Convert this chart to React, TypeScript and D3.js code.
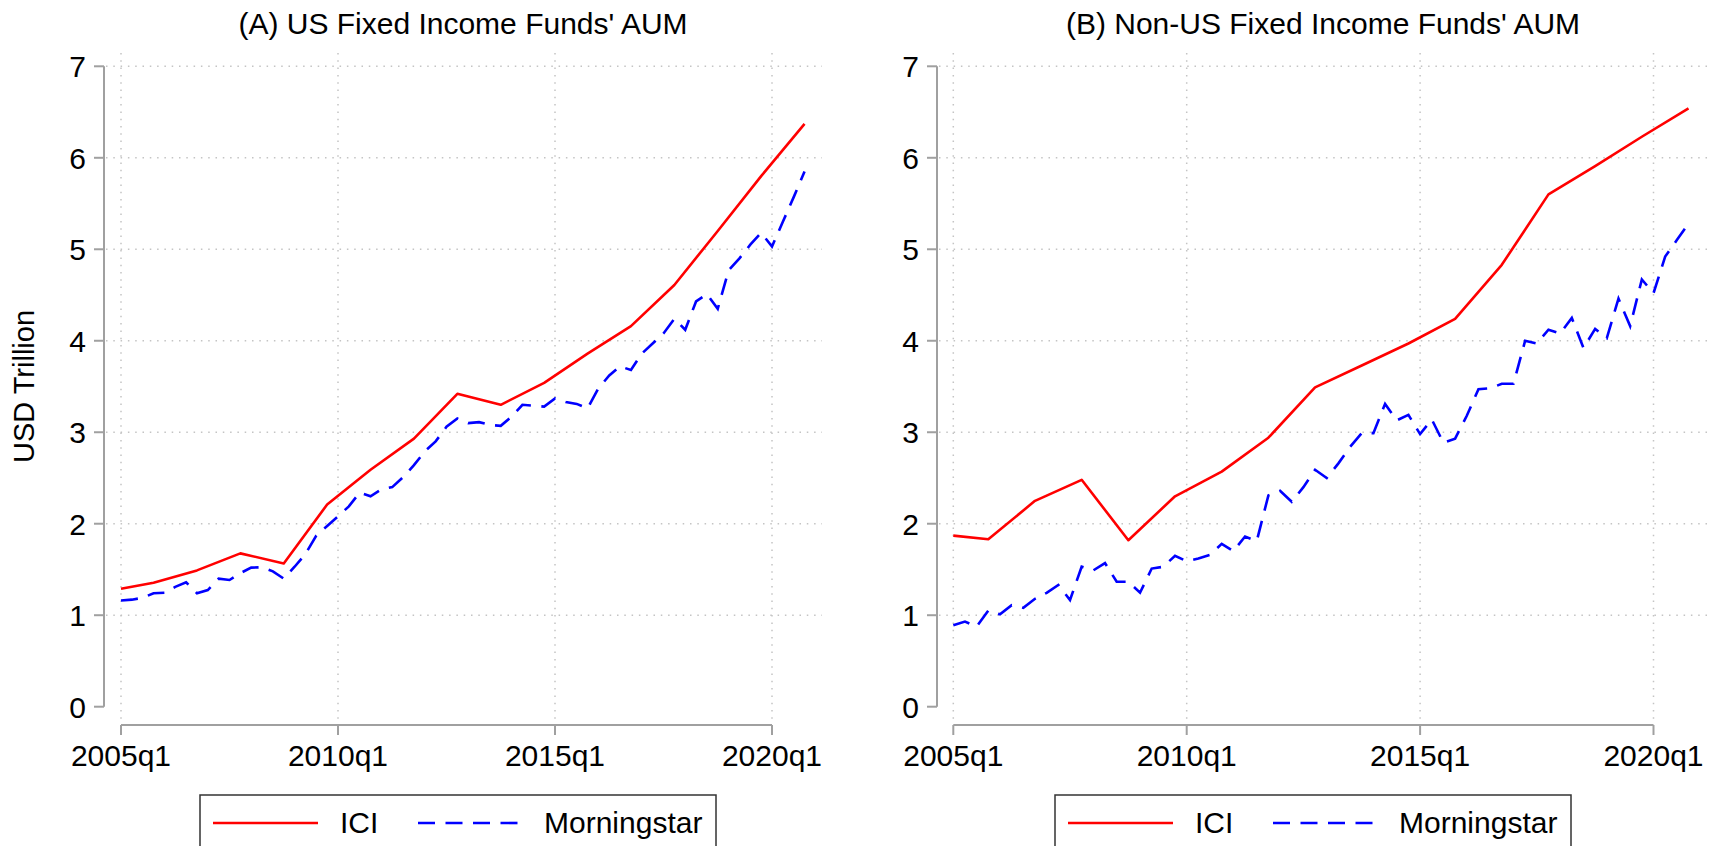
import React from "react";
import * as d3 from "d3";

// quarter index: 0 = 2005q1 ... 63 = 2020q4
const xTickQuarters = [0, 20, 40, 60];
const xTickLabels = ["2005q1", "2010q1", "2015q1", "2020q1"];
const yTickValues = [0, 1, 2, 3, 4, 5, 6, 7];

// ICI: annual observations
const iciQuarters = [0, 3, 7, 11, 15, 19, 23, 27, 31, 35, 39, 43, 47, 51, 55, 59, 63];
const iciUS = [1.29, 1.355, 1.49, 1.676, 1.566, 2.21, 2.59, 2.93, 3.42, 3.3, 3.54, 3.86, 4.16, 4.61, 5.2, 5.8, 6.37];
const iciNonUS = [1.87, 1.83, 2.25, 2.48, 1.82, 2.3, 2.57, 2.94, 3.49, 3.73, 3.97, 4.24, 4.83, 5.6, 5.91, 6.23, 6.54];

// Morningstar: quarterly, 2005q1 - 2020q4
const msUS = [
  1.16, 1.17, 1.19, 1.24, 1.245, 1.31, 1.36, 1.24, 1.275, 1.4, 1.385, 1.46, 1.52, 1.525, 1.48, 1.4,
  1.53, 1.67, 1.87, 1.975, 2.08, 2.19, 2.34, 2.3, 2.375, 2.4, 2.51, 2.64, 2.79, 2.9, 3.06, 3.15,
  3.1, 3.11, 3.08, 3.07, 3.17, 3.3, 3.29, 3.28, 3.37, 3.33, 3.31, 3.26, 3.48, 3.62, 3.72, 3.68,
  3.86, 3.97, 4.08, 4.24, 4.12, 4.43, 4.51, 4.35, 4.77, 4.9, 5.05, 5.18, 5.03, 5.3, 5.57, 5.85,
];
const msNonUS = [
  0.89, 0.93, 0.875, 1.05, 1.01, 1.11, 1.08, 1.18, 1.245, 1.33, 1.166, 1.53, 1.49, 1.57, 1.366, 1.366,
  1.246, 1.51, 1.53, 1.65, 1.59, 1.62, 1.66, 1.78, 1.7, 1.86, 1.81, 2.31, 2.36, 2.24, 2.4, 2.59,
  2.5, 2.66, 2.84, 2.99, 2.99, 3.31, 3.13, 3.19, 2.98, 3.14, 2.885, 2.93, 3.18, 3.47, 3.48, 3.53,
  3.53, 4.0, 3.97, 4.12, 4.08, 4.25, 3.92, 4.13, 4.03, 4.46, 4.16, 4.67, 4.52, 4.92, 5.1, 5.28,
];

const FONT = "'Liberation Sans', Arial, Helvetica, sans-serif";
const FS = 30;
const AXIS = "#a0a0a0";
const GRID = "#c4c4c4";
const DASH = "17 10.5";

type PanelProps = {
  title: string;
  ici: number[];
  ms: number[];
  axisX: number; // y-axis line position
  x0: number; // 2005q1
  x60: number; // 2020q1
  gridRight: number;
  legendLeft: number;
  yLabel?: string;
};

function Panel(p: PanelProps) {
  const xScale = d3.scaleLinear().domain([0, 60]).range([p.x0, p.x60]);
  const yScale = d3.scaleLinear().domain([0, 7]).range([706.7, 66.3]);
  const line = d3
    .line<[number, number]>()
    .x((d) => xScale(d[0]))
    .y((d) => yScale(d[1]));
  const iciPts: [number, number][] = p.ici.map((v, i) => [iciQuarters[i], v]);
  const msPts: [number, number][] = p.ms.map((v, i) => [i, v]);
  const xAxisY = 725;
  const centre = (p.axisX + p.gridRight) / 2;
  const lx = p.legendLeft;
  const ly = 823;

  return (
    <g fontFamily={FONT}>
      <text x={centre} y={34} fontSize={FS} textAnchor="middle" fill="#000">
        {p.title}
      </text>

      {/* grid */}
      {yTickValues
        .filter((v) => v > 0)
        .map((v) => (
          <line
            key={"gy" + v}
            x1={p.axisX + 2}
            x2={p.gridRight}
            y1={yScale(v)}
            y2={yScale(v)}
            stroke={GRID}
            strokeWidth={1.5}
            strokeDasharray="1.5 5.8"
          />
        ))}
      {xTickQuarters.map((q) => (
        <line
          key={"gx" + q}
          x1={xScale(q)}
          x2={xScale(q)}
          y1={53}
          y2={xAxisY - 5}
          stroke={GRID}
          strokeWidth={1.5}
          strokeDasharray="1.5 5.8"
        />
      ))}

      {/* y axis */}
      <line x1={p.axisX} x2={p.axisX} y1={yScale(7)} y2={yScale(0)} stroke={AXIS} strokeWidth={2} />
      {yTickValues.map((v) => (
        <g key={"yt" + v}>
          <line x1={p.axisX - 10} x2={p.axisX} y1={yScale(v)} y2={yScale(v)} stroke={AXIS} strokeWidth={2} />
          <text
            x={p.axisX - 18}
            y={yScale(v)}
            dy="0.36em"
            fontSize={FS}
            textAnchor="end"
            fill="#000"
          >
            {v}
          </text>
        </g>
      ))}

      {/* x axis */}
      <line x1={xScale(0)} x2={xScale(60)} y1={xAxisY} y2={xAxisY} stroke={AXIS} strokeWidth={2} />
      {xTickQuarters.map((q, i) => (
        <g key={"xt" + q}>
          <line x1={xScale(q)} x2={xScale(q)} y1={xAxisY} y2={xAxisY + 10} stroke={AXIS} strokeWidth={2} />
          <text x={xScale(q)} y={766} fontSize={FS} textAnchor="middle" fill="#000">
            {xTickLabels[i]}
          </text>
        </g>
      ))}

      {p.yLabel && (
        <text
          transform={`translate(34,${(yScale(0) + yScale(7)) / 2}) rotate(-90)`}
          fontSize={29}
          textAnchor="middle"
          fill="#000"
        >
          {p.yLabel}
        </text>
      )}

      {/* series */}
      <path d={line(msPts) || ""} fill="none" stroke="#0000ff" strokeWidth={2.6} strokeDasharray={DASH} />
      <path d={line(iciPts) || ""} fill="none" stroke="#ff0000" strokeWidth={2.6} strokeLinejoin="round" />

      {/* legend */}
      <rect x={lx} y={795} width={516} height={70} fill="#fff" stroke="#333" strokeWidth={1.5} />
      <line x1={lx + 13} x2={lx + 118} y1={ly} y2={ly} stroke="#ff0000" strokeWidth={2.6} />
      <text x={lx + 140} y={ly + 10} fontSize={FS} fill="#000">
        ICI
      </text>
      <line x1={lx + 218} x2={lx + 323} y1={ly} y2={ly} stroke="#0000ff" strokeWidth={2.6} strokeDasharray={DASH} />
      <text x={lx + 344} y={ly + 10} fontSize={FS} fill="#000">
        Morningstar
      </text>
    </g>
  );
}

export default function App() {
  return (
    <div style={{ position: "fixed", left: 0, top: 0 }}>
      <svg width={1709} height={846} style={{ display: "block", background: "#fff" }}>
        <Panel
          title="(A) US Fixed Income Funds' AUM"
          ici={iciUS}
          ms={msUS}
          axisX={104}
          x0={121}
          x60={772}
          gridRight={822}
          legendLeft={200}
          yLabel="USD Trillion"
        />
        <Panel
          title="(B) Non-US Fixed Income Funds' AUM"
          ici={iciNonUS}
          ms={msNonUS}
          axisX={937}
          x0={953.3}
          x60={1653.5}
          gridRight={1709}
          legendLeft={1055}
        />
      </svg>
    </div>
  );
}
